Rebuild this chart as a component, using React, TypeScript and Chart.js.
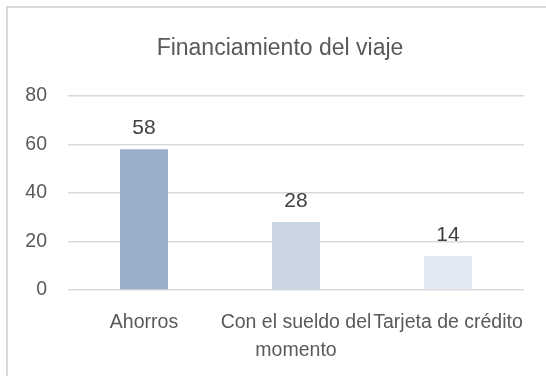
import React, { useEffect, useRef } from "react";
import { Chart, registerables } from "chart.js";

Chart.register(...registerables);

const categories: (string | string[])[] = [
  "Ahorros",
  ["Con el sueldo del", "momento"],
  "Tarjeta de crédito",
];
const values = [58, 28, 14];
const barColors = ["#9BAFCB", "#CBD6E3", "#E3E9F2"];
const yTicks = [0, 20, 40, 60, 80];
const titleText = "Financiamiento del viaje";

const FONT = "'Liberation Sans', Arial, sans-serif";

// Draws each bar's value a little above its top.
const valueLabels = {
  id: "valueLabels",
  afterDatasetsDraw(chart: any) {
    const ctx = chart.ctx;
    const meta = chart.getDatasetMeta(0);
    ctx.save();
    ctx.font = `21px ${FONT}`;
    ctx.fillStyle = "#404040";
    ctx.textAlign = "center";
    ctx.textBaseline = "alphabetic";
    meta.data.forEach((bar: any, i: number) => {
      ctx.fillText(String(values[i]), bar.x, bar.y - 15);
    });
    ctx.restore();
  },
};

// Chart heading, centred over the framed chart box.
const heading = {
  id: "heading",
  afterDraw(chart: any) {
    const ctx = chart.ctx;
    ctx.save();
    ctx.font = `23px ${FONT}`;
    ctx.fillStyle = "#595959";
    ctx.textAlign = "center";
    ctx.textBaseline = "alphabetic";
    ctx.fillText(titleText, 280, 55);
    ctx.restore();
  },
};

export default function App() {
  const canvasRef = useRef<HTMLCanvasElement | null>(null);

  useEffect(() => {
    if (!canvasRef.current) return;
    Chart.defaults.font.family = FONT;
    const chart = new Chart(canvasRef.current, {
      type: "bar",
      data: {
        labels: categories,
        datasets: [
          {
            data: values,
            backgroundColor: barColors,
            borderWidth: 0,
            categoryPercentage: 1,
            barPercentage: 48 / 152,
          },
        ],
      },
      options: {
        animation: false,
        responsive: false,
        maintainAspectRatio: false,
        layout: { padding: { left: 0, right: 22, top: 96, bottom: 0 } },
        plugins: {
          legend: { display: false },
          tooltip: { enabled: false },
          title: { display: false },
        },
        scales: {
          x: {
            grid: { display: false },
            border: { display: false },
            ticks: {
              color: "#595959",
              font: { size: 19.5, lineHeight: 1.44 },
              padding: 11,
              maxRotation: 0,
              autoSkip: false,
            },
            afterFit(scale: any) {
              scale.height = 86;
            },
          },
          y: {
            min: 0,
            max: 80,
            afterBuildTicks(scale: any) {
              scale.ticks = yTicks.map((v) => ({ value: v }));
            },
            grid: { color: "#D9D9D9", lineWidth: 1.5, drawTicks: false },
            border: { display: false },
            ticks: {
              color: "#595959",
              font: { size: 19.5 },
              padding: 21,
            },
            afterFit(scale: any) {
              scale.width = 68;
            },
          },
        },
      },
      plugins: [valueLabels, heading],
    });
    return () => chart.destroy();
  }, []);

  return (
    <div
      style={{
        position: "fixed",
        left: 0,
        top: 0,
        width: 546,
        height: 376,
        overflow: "hidden",
        background: "#FFFFFF",
      }}
    >
      <div
        style={{
          position: "absolute",
          left: 6,
          top: 6,
          width: 600,
          height: 420,
          border: "2px solid #D9D9D9",
          boxSizing: "border-box",
        }}
      />
      <canvas
        ref={canvasRef}
        width={546}
        height={376}
        style={{ position: "absolute", left: 0, top: 0, width: 546, height: 376 }}
      />
    </div>
  );
}
